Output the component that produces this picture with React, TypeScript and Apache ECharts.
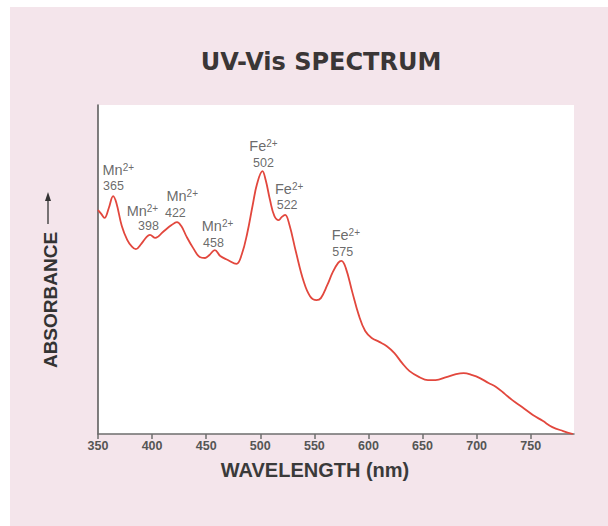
import React, { useEffect, useRef } from "react";
import * as echarts from "echarts";

// Wavelength (nm) and relative absorbance
const wavelengths = [
  350, 353, 356, 360, 364, 367, 372, 377, 381, 385, 390, 395, 398, 403, 410, 418, 423, 427, 432, 438,
  444, 449, 453, 458, 463, 470, 478, 483, 488, 493, 497, 502, 505, 509, 513, 517, 520, 523, 527, 533,
  540, 546, 552, 556, 562, 567, 572, 575, 579, 585, 591, 597, 603, 610, 617, 624, 631, 638, 647, 655,
  662, 672, 681, 688, 696, 703, 711, 718, 726, 733, 742, 752, 761, 770, 780, 789,
];
const absorbance = [
  0.681, 0.669, 0.657, 0.687, 0.723, 0.702, 0.632, 0.59, 0.571, 0.562, 0.578, 0.599, 0.605, 0.596, 0.614, 0.635, 0.644, 0.632, 0.599, 0.565,
  0.538, 0.535, 0.544, 0.559, 0.541, 0.529, 0.517, 0.547, 0.611, 0.696, 0.76, 0.799, 0.772, 0.711, 0.663, 0.65, 0.66, 0.666, 0.635, 0.553,
  0.465, 0.419, 0.407, 0.413, 0.453, 0.492, 0.52, 0.526, 0.505, 0.432, 0.362, 0.313, 0.292, 0.28, 0.267, 0.246, 0.216, 0.191, 0.173, 0.164,
  0.164, 0.173, 0.182, 0.185, 0.179, 0.17, 0.155, 0.143, 0.122, 0.103, 0.082, 0.058, 0.04, 0.021, 0.009, 0.0,
];

// Peak annotations: ion, wavelength label, anchor of ion text, anchor of number text
const peakIons = ["Mn", "Mn", "Mn", "Mn", "Fe", "Fe", "Fe"];
const peakLabels = ["365", "398", "422", "458", "502", "522", "575"];
const ionAnchors = [
  [354.2, 0.802], [376.5, 0.678], [413.3, 0.722], [445.9, 0.632], [489.9, 0.874], [513.6, 0.745], [566.0, 0.605],
];
const numAnchors = [
  [354.6, 0.754], [387.0, 0.631], [411.9, 0.672], [447.1, 0.582], [493.3, 0.824], [515.2, 0.695], [566.6, 0.553],
];

const xTicks = [350, 400, 450, 500, 550, 600, 650, 700, 750];

const BOLD = '"Liberation Sans", Arial, sans-serif';
const SANS = '"Liberation Sans", Arial, sans-serif';

export default function App() {
  const ref = useRef<HTMLDivElement>(null);
  useEffect(() => {
    if (!ref.current) return;
    const chart = echarts.init(ref.current, null, { renderer: "svg" });
    const line = wavelengths.map((w, i) => [w, absorbance[i]]);
    chart.setOption({
      animation: false,
      backgroundColor: "#ffffff",
      graphic: [
        { type: "rect", z: -10, shape: { x: 10, y: 7, width: 598, height: 519 }, style: { fill: "#f4e5eb" } },
        {
          type: "text", x: 321, y: 62,
          style: { text: "UV-Vis SPECTRUM", font: 'bold 24px "DejaVu Sans", sans-serif', fill: "#3a3636", align: "center", verticalAlign: "middle" },
        },
        {
          type: "text", x: 50, y: 300, rotation: Math.PI / 2,
          style: { text: "ABSORBANCE", font: "bold 19px " + BOLD, fill: "#333", align: "center", verticalAlign: "middle" },
        },
        { type: "line", shape: { x1: 48, y1: 224, x2: 48, y2: 199 }, style: { stroke: "#333", lineWidth: 1.3 } },
        { type: "polygon", shape: { points: [[48, 192], [45, 201], [51, 201]] }, style: { fill: "#333" } },
      ],
      grid: { left: 98, right: 34, top: 105, bottom: 92, show: true, backgroundColor: "#ffffff", borderWidth: 0 },
      xAxis: {
        type: "value", min: 350, max: 790, interval: 50,
        name: "WAVELENGTH (nm)", nameLocation: "middle", nameGap: 26,
        nameTextStyle: { fontFamily: BOLD, fontWeight: "bold", fontSize: 20, color: "#3a3a3a", padding: [0, 42, 0, 0] },
        axisLine: { lineStyle: { color: "#6e6e6e", width: 1.5 } },
        axisTick: { show: true, length: 5, lineStyle: { color: "#6e6e6e", width: 1.5 }, customValues: xTicks },
        axisLabel: { customValues: xTicks, fontFamily: BOLD, fontWeight: "bold", fontSize: 12.5, color: "#555", margin: 5 },
        splitLine: { show: false },
      },
      yAxis: {
        type: "value", min: 0, max: 1,
        axisLine: { show: true, lineStyle: { color: "#555", width: 1.5 } },
        axisTick: { show: false },
        axisLabel: { show: false },
        splitLine: { show: false },
      },
      series: [
        {
          type: "line", data: line, smooth: 0.4, showSymbol: false,
          lineStyle: { color: "#e2473d", width: 1.8 },
        },
        {
          type: "scatter", symbolSize: 0, silent: true,
          data: ionAnchors.map((a) => a),
          label: {
            show: true, position: [0, 0], align: "left", verticalAlign: "middle",
            formatter: (p: any) => `{a|${peakIons[p.dataIndex]}}{s|2+}`,
            rich: {
              a: { fontFamily: SANS, fontSize: 14.5, color: "#444", lineHeight: 15 },
              s: { fontFamily: SANS, fontSize: 10, color: "#444", verticalAlign: "top", lineHeight: 15, padding: [0, 0, 6, 0] },
            },
          },
        },
        {
          type: "scatter", symbolSize: 0, silent: true,
          data: numAnchors.map((a) => a),
          label: {
            show: true, position: [0, 0], align: "left", verticalAlign: "middle",
            formatter: (p: any) => peakLabels[p.dataIndex],
            fontFamily: SANS, fontSize: 12.5, lineHeight: 13, color: "#444",
          },
        },
      ],
    });
    return () => chart.dispose();
  }, []);
  return <div ref={ref} style={{ position: "fixed", left: 0, top: 0, width: 608, height: 526 }} />;
}
